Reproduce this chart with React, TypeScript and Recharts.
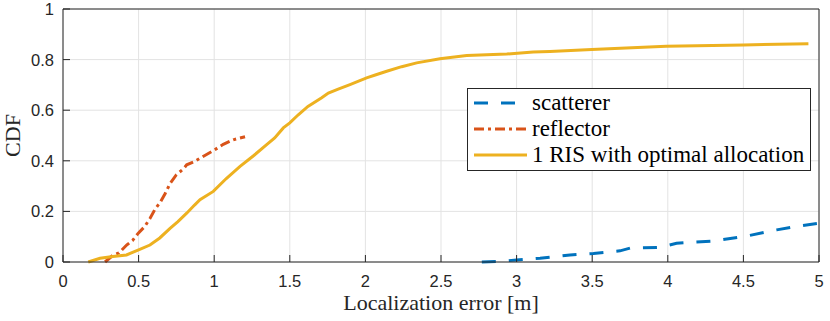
import { LineChart, Line, XAxis, YAxis, CartesianGrid, Legend } from "recharts"

const xTicks = [0, 0.5, 1, 1.5, 2, 2.5, 3, 3.5, 4, 4.5, 5]
const yTicks = [0, 0.2, 0.4, 0.6, 0.8, 1]

const scattererErr = [2.77, 2.9, 3.0, 3.155, 3.353, 3.508, 3.684, 3.75, 3.948, 4.058, 4.3, 4.5, 4.72, 4.85, 5.0]
const scattererCdf = [0, 0.003, 0.008, 0.015, 0.028, 0.034, 0.044, 0.055, 0.058, 0.074, 0.083, 0.1, 0.127, 0.14, 0.153]

const reflectorErr = [0.278, 0.333, 0.37, 0.421, 0.46, 0.498, 0.54, 0.575, 0.61, 0.642, 0.675, 0.708, 0.75, 0.796, 0.818, 0.862, 0.92, 0.994, 1.06, 1.126, 1.17, 1.204]
const reflectorCdf = [0, 0.028, 0.036, 0.067, 0.085, 0.114, 0.14, 0.172, 0.21, 0.235, 0.27, 0.31, 0.345, 0.368, 0.384, 0.395, 0.415, 0.44, 0.465, 0.483, 0.49, 0.495]

const risErr = [0.167, 0.245, 0.33, 0.42, 0.5, 0.575, 0.64, 0.708, 0.76, 0.818, 0.87, 0.906, 0.994, 1.08, 1.171, 1.26, 1.347, 1.4, 1.457, 1.5, 1.556, 1.62, 1.711, 1.755, 1.82, 1.898, 2.008, 2.07, 2.141, 2.24, 2.339, 2.493, 2.67, 2.935, 3.11, 3.22, 3.497, 3.99, 4.5, 4.93]
const risCdf = [0, 0.015, 0.022, 0.028, 0.048, 0.067, 0.095, 0.133, 0.16, 0.193, 0.225, 0.246, 0.279, 0.33, 0.378, 0.42, 0.464, 0.49, 0.53, 0.55, 0.582, 0.615, 0.649, 0.668, 0.683, 0.701, 0.728, 0.74, 0.754, 0.772, 0.787, 0.803, 0.816, 0.822, 0.83, 0.832, 0.84, 0.853, 0.858, 0.863]

const seriesNames = ["scatterer", "reflector", "1 RIS with optimal allocation"]
const seriesColors = ["#0072BD", "#D95319", "#EDB120"]
const seriesDashes = ["14 13", "10 4 3 4", undefined]

const toPoints = (xs: number[], ys: number[]) => xs.map((x, i) => ({ err: x, cdf: ys[i] }))

const AXIS = "#262626"
const SANS = "'Liberation Sans', Arial, sans-serif"
const SERIF = "'Liberation Serif', 'Times New Roman', serif"

const BottomTick = ({ x, y, payload }: any) => (
    <g>
        <line x1={x} y1={y} x2={x} y2={y - 7} stroke={AXIS} />
        <text x={x} y={y + 25} textAnchor="middle" style={{ fontFamily: SANS, fontSize: 16.5 }} fill={AXIS}>
            {payload.value}
        </text>
    </g>
)

const TopTick = ({ x, y }: any) => <line x1={x} y1={y} x2={x} y2={y + 7} stroke={AXIS} />

const LeftTick = ({ x, y, payload }: any) => (
    <g>
        <line x1={x} y1={y} x2={x + 7} y2={y} stroke={AXIS} />
        <text x={x - 9} y={y} dy="0.36em" textAnchor="end" style={{ fontFamily: SANS, fontSize: 16.5 }} fill={AXIS}>
            {payload.value}
        </text>
    </g>
)

const RightTick = ({ x, y }: any) => <line x1={x} y1={y} x2={x - 7} y2={y} stroke={AXIS} />

const YLabel = ({ viewBox }: any) => {
    const cx = viewBox.x + 20
    const cy = viewBox.y + viewBox.height / 2
    return (
        <text x={cx} y={cy} transform={`rotate(-90, ${cx}, ${cy})`} textAnchor="middle" style={{ fontFamily: SERIF, fontSize: 22 }} fill={AXIS}>
            CDF
        </text>
    )
}

const XLabel = ({ viewBox }: any) => (
    <text x={viewBox.x + viewBox.width / 2} y={viewBox.y + 48} textAnchor="middle" style={{ fontFamily: SERIF, fontSize: 22 }} fill={AXIS}>
        Localization error [m]
    </text>
)

const LegendBox = () => (
    <svg width={345} height={84} style={{ display: "block", fontFamily: SERIF }}>
        <rect x={0.5} y={0.5} width={343} height={82} fill="#fff" stroke={AXIS} />
        {seriesNames.map((name, i) => (
            <g key={name}>
                <line x1={7} x2={60} y1={15 + i * 26} y2={15 + i * 26} stroke={seriesColors[i]} strokeWidth={3} strokeDasharray={seriesDashes[i]} />
                <text x={65} y={21.5 + i * 26} style={{ fontFamily: SERIF, fontSize: 23 }} fill="#000">
                    {name}
                </text>
            </g>
        ))}
    </svg>
)

export default function App() {
    const series = [
        toPoints(scattererErr, scattererCdf),
        toPoints(reflectorErr, reflectorCdf),
        toPoints(risErr, risCdf),
    ]
    return (
        <div style={{ position: "absolute", left: 0, top: 0, background: "#fff" }}>
            <LineChart width={830} height={321} margin={{ top: 0, right: 0, bottom: 0, left: 0 }}>
                <CartesianGrid stroke="#e3e3e3" />
                <XAxis
                    dataKey="err"
                    type="number"
                    domain={[0, 5]}
                    ticks={xTicks}
                    interval={0}
                    height={59}
                    tickSize={0}
                    tickMargin={0}
                    tick={<BottomTick />}
                    axisLine={{ stroke: AXIS }}
                    allowDataOverflow
                    label={<XLabel />}
                />
                <XAxis
                    xAxisId="top"
                    orientation="top"
                    type="number"
                    domain={[0, 5]}
                    ticks={xTicks}
                    interval={0}
                    height={9}
                    tickSize={0}
                    tickMargin={0}
                    tick={<TopTick />}
                    axisLine={{ stroke: AXIS }}
                />
                <YAxis
                    type="number"
                    domain={[0, 1]}
                    ticks={yTicks}
                    interval={0}
                    width={63}
                    tickSize={0}
                    tickMargin={0}
                    tick={<LeftTick />}
                    axisLine={{ stroke: AXIS }}
                    label={<YLabel />}
                />
                <YAxis
                    yAxisId="right"
                    orientation="right"
                    type="number"
                    domain={[0, 1]}
                    ticks={yTicks}
                    interval={0}
                    width={11}
                    tickSize={0}
                    tickMargin={0}
                    tick={<RightTick />}
                    axisLine={{ stroke: AXIS }}
                />
                {series.map((pts, i) => (
                    <Line
                        key={seriesNames[i]}
                        data={pts}
                        dataKey="cdf"
                        name={seriesNames[i]}
                        type="linear"
                        stroke={seriesColors[i]}
                        strokeWidth={3}
                        strokeDasharray={seriesDashes[i]}
                        dot={false}
                        isAnimationActive={false}
                    />
                ))}
                <Legend
                    layout="vertical"
                    align="center"
                    verticalAlign="middle"
                    content={<LegendBox />}
                    wrapperStyle={{ left: 467, top: 88, width: 345, height: 84 }}
                />
            </LineChart>
        </div>
    )
}
